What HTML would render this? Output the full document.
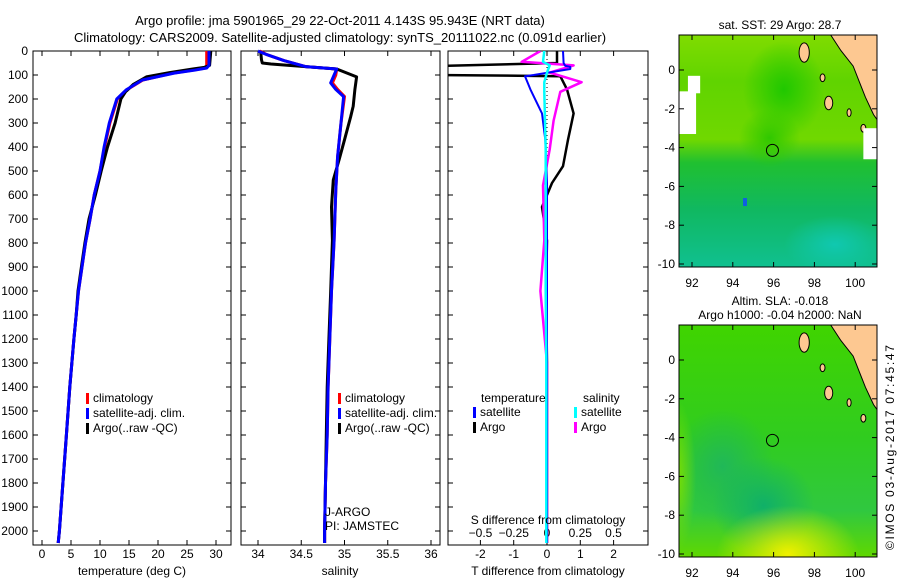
<!DOCTYPE html>
<html><head><meta charset="utf-8"><style>
body{margin:0;background:#fff}
svg{font-family:"Liberation Sans",sans-serif;font-size:12px}
</style></head><body>
<svg id="c" width="900" height="580" viewBox="0 0 900 580">
<text x="340" y="25" text-anchor="middle" font-size="13">Argo profile: jma 5901965_29 22-Oct-2011 4.143S 95.943E (NRT data)</text>
<text x="340" y="42" text-anchor="middle" font-size="13">Climatology: CARS2009. Satellite-adjusted climatology: synTS_20111022.nc (0.091d earlier)</text>
<g id="p1"></g>
<g id="p2"></g>
<g id="p3"></g>
<g id="m1"></g>
<g id="m2"></g>
<text x="894" y="550" transform="rotate(-90 894 550)" font-size="12" textLength="205" lengthAdjust="spacing">©IMOS 03-Aug-2017 07:45:47</text>
</svg>
<script>
const depthTicks=[0,100,200,300,400,500,600,700,800,900,1000,1100,1200,1300,1400,1500,1600,1700,1800,1900,2000];
const tempTicks=[0,5,10,15,20,25,30];
const salTicks=[34,34.5,35,35.5,36];
const tdTicks=[-2,-1,0,1,2];
const sdTicks=[-0.5,-0.25,0,0.25,0.5];
// temperature (deg C)
const climTD=[0,60,71,80,92,121,162,200,300,400,500,600,700,800,900,1000,1100,1200,1400,1600,1800,2000,2050];
const climT=[28.4,28.4,28.2,26,22.6,17.4,14.6,13,11.7,10.8,10,9,8.3,7.5,6.9,6.3,5.9,5.5,4.8,4.2,3.6,3.0,2.8];
const satT=[28.8,28.8,28.4,26.3,22.8,17.3,14.5,12.9,11.6,10.7,10,9,8.3,7.5,6.9,6.3,5.9,5.5,4.8,4.2,3.6,3.0,2.8];
const argoTD=[0,60,68,75,90,108,140,170,200,300,400,500,600,700,800,900,1000,1100,1200,1400,1600,1800,2000,2050];
const argoT=[29.1,28.9,28,26,22,18,15.7,14.4,13.6,12.6,11.3,10.2,9.2,8.1,7.4,6.8,6.2,5.9,5.5,4.8,4.2,3.6,3.0,2.8];
// salinity
const climSD=[0,15,40,65,75,100,133,160,190,300,440,580,790,1000,1200,1400,1600,1800,2000,2050];
const climS=[34.02,34.1,34.3,34.55,34.91,34.9,34.86,34.92,35.0,34.96,34.92,34.9,34.88,34.85,34.83,34.81,34.8,34.78,34.77,34.77];
const satS=[34.0,34.1,34.3,34.55,34.91,34.88,34.84,34.9,34.99,34.96,34.92,34.9,34.88,34.85,34.83,34.81,34.8,34.78,34.77,34.77];
const argoSD=[0,37,50,54,75,108,160,230,275,370,450,537,650,790,1000,1200,1400,1600,1800,2000,2050];
const argoS=[34.03,34.04,34.05,34.15,34.91,35.14,35.12,35.1,35.07,35.0,34.94,34.87,34.85,34.86,34.84,34.82,34.8,34.79,34.78,34.77,34.77];
// differences
const dTD=[0,50,62,66,75,100,105,160,260,370,480,550,650,790,1000,1300,1600,2000,2050];
const dTargo=[0.3,0.3,-3.2,-3.2,-3.2,-3.2,0.4,0.6,0.8,0.63,0.48,0.15,-0.15,0,-0.03,0,0,0,0];
const dTsat=[0.48,0.5,0.55,0.7,0.7,-0.4,-0.66,-0.5,-0.15,-0.05,-0.02,0,0,0,0,0,0,0,0];
const dSD=[0,45,60,90,130,170,290,410,560,790,1000,1300,1600,2000,2050];
const dSargo=[-0.05,-0.19,0.2,0.02,0.26,0.1,0.05,0.02,-0.03,-0.02,-0.05,0,0,0,0];
const dSsat=[-0.02,-0.03,0.02,0.0,-0.02,-0.02,-0.015,-0.01,-0.01,-0.01,-0.01,-0.005,-0.005,-0.005,-0.005];

const NS="http://www.w3.org/2000/svg";
function mk(p,t,a,txt){const e=document.createElementNS(NS,t);for(const k in a)e.setAttribute(k,a[k]);if(txt!==undefined)e.textContent=txt;p.appendChild(e);return e;}
const yD=d=>51+d*0.24;
const TOP=51,BOT=545;
function frame(g,x0,x1){const r=mk(g,'rect',{x:x0,y:TOP,width:x1-x0,height:BOT-TOP,fill:'none',stroke:'#000'});

}
function line(g,xs,ds,xf,col,w,name){const pts=xs.map((v,i)=>xf(v).toFixed(1)+','+yD(ds[i]).toFixed(1)).join(' ');
const l=mk(g,'polyline',{points:pts,fill:'none',stroke:col,'stroke-width':w,'stroke-linejoin':'round'});

}
function depthAxis(g,x0,x1,labels){depthTicks.forEach(d=>{const y=yD(d);
mk(g,'line',{x1:x0,x2:x0+5,y1:y,y2:y,stroke:'#000'});mk(g,'line',{x1:x1-5,x2:x1,y1:y,y2:y,stroke:'#000'});
if(labels){const t=mk(g,'text',{x:28,y:y+4,'text-anchor':'end'},String(d));

}});}
function xAxis(g,ticks,xf,y,lab){ticks.forEach(v=>{const x=xf(v);mk(g,'line',{x1:x,x2:x,y1:BOT-5,y2:BOT,stroke:'#000'});mk(g,'line',{x1:x,x2:x,y1:TOP,y2:TOP+5,stroke:'#000'});
if(lab){const t=mk(g,'text',{x:x,y:y,'text-anchor':'middle'},String(v));

}});}
function legend(g,x,y,items){items.forEach((it,i)=>{mk(g,'rect',{x:x,y:y+i*15-9,width:3,height:11,fill:it[0]});
const t=mk(g,'text',{x:x+7,y:y+i*15},it[1]);

});}

// Panel 1
const p1=document.getElementById('p1');const xT=v=>42+v*5.8;
frame(p1,33,231);depthAxis(p1,33,231,true);xAxis(p1,tempTicks,xT,558,true);
line(p1,climT,climTD,xT,'#f00',3,'climatology-temp-line');
line(p1,argoT,argoTD,xT,'#000',3,'argo-temp-line');
line(p1,satT,climTD,xT,'#00f',3,'satellite-temp-line');
legend(p1,86,402,[['#f00','climatology'],['#00f','satellite-adj. clim.'],['#000','Argo(..raw -QC)']]);
mk(p1,'text',{x:132,y:575,'text-anchor':'middle'},'temperature (deg C)');
// Panel 2
const p2=document.getElementById('p2');const xS=v=>258+(v-34)*86.5;
frame(p2,241,440);depthAxis(p2,241,440,false);xAxis(p2,salTicks,xS,558,true);
line(p2,climS,climSD,xS,'#f00',3,'climatology-salinity-line');
line(p2,argoS,argoSD,xS,'#000',3,'argo-salinity-line');
line(p2,satS,climSD,xS,'#00f',3,'satellite-salinity-line');
legend(p2,338,402,[['#f00','climatology'],['#00f','satellite-adj. clim.'],['#000','Argo(..raw -QC)']]);
mk(p2,'text',{x:325,y:516},'J-ARGO');mk(p2,'text',{x:325,y:530},'PI: JAMSTEC');
mk(p2,'text',{x:340,y:575,'text-anchor':'middle'},'salinity');
// Panel 3
const p3=document.getElementById('p3');const xTD=v=>547+v*33.3;const xSD=v=>547+v*133;
const cp=mk(p3,'clipPath',{id:'cl3'});mk(cp,'rect',{x:448,y:TOP,width:200,height:BOT-TOP});
frame(p3,448,648);depthAxis(p3,448,648,false);xAxis(p3,tdTicks,xTD,558,true);
sdTicks.forEach(v=>{const t=mk(p3,'text',{x:xSD(v),y:537,'text-anchor':'middle'},String(v).replace('-','−'));

});
mk(p3,'line',{x1:547,x2:547,y1:TOP,y2:BOT,stroke:'#000','stroke-dasharray':'1,3'});
const gl=mk(p3,'g',{'clip-path':'url(#cl3)'});
line(gl,dTargo,dTD,xTD,'#000',2.5,'argo-temp-diff-line');
line(gl,dSargo,dSD,xSD,'#f0f',2.5,'argo-sal-diff-line');
line(gl,dTsat,dTD,xTD,'#00f',2,'sat-temp-diff-line');
line(gl,dSsat,dSD,xSD,'#0ff',2.5,'sat-sal-diff-line');
mk(p3,'text',{x:481,y:402},'temperature');mk(p3,'text',{x:583,y:402},'salinity');
legend(p3,473,416,[['#00f','satellite'],['#000','Argo']]);
legend(p3,574,416,[['#0ff','satellite'],['#f0f','Argo']]);
mk(p3,'text',{x:548,y:524,'text-anchor':'middle'},'S difference from climatology');
mk(p3,'text',{x:548,y:575,'text-anchor':'middle'},'T difference from climatology');

// Maps
const lonTicks=[92,94,96,98,100];const latTicks=[0,-2,-4,-6,-8,-10];
const mX=lon=>692+(lon-92)*20.4;
const land=[[98.8,1.9],[99.3,1.0],[99.9,0.2],[100.2,-0.6],[100.5,-1.4],[100.9,-2.3],[101.1,-2.6],[101.1,1.9]];
function map(id,y0,lat0y,title,grad,blobs){const g=document.getElementById(id);const mY=lat=>lat0y-lat*19.4;
const gid='gr'+id;const lg=mk(g,'linearGradient',{id:gid,x1:0,y1:0,x2:0,y2:1});
grad.forEach(s=>mk(lg,'stop',{offset:s[0],'stop-color':s[1]}));
const cid='cm'+id;const c=mk(g,'clipPath',{id:cid});mk(c,'rect',{x:679,y:y0,width:198,height:232});
const inner=mk(g,'g',{'clip-path':'url(#'+cid+')'});
const bg=mk(inner,'rect',{x:679,y:y0,width:198,height:232,fill:'url(#'+gid+')'});


blobs.forEach((b,i)=>{const rg=mk(g,'radialGradient',{id:id+'b'+i});mk(rg,'stop',{offset:0,'stop-color':b[4],'stop-opacity':1});mk(rg,'stop',{offset:1,'stop-color':b[4],'stop-opacity':0});
mk(inner,'ellipse',{cx:mX(b[0]),cy:mY(b[1]),rx:b[2]*20.4,ry:b[3]*19.4,fill:'url(#'+id+'b'+i+')'});});
const ld=mk(inner,'polygon',{points:land.map(p=>mX(p[0])+','+Math.max(y0,mY(p[1]))).join(' '),fill:'#fdc891',stroke:'#000'});


[[97.5,0.9,0.25,0.5],[98.7,-1.7,0.2,0.35],[98.4,-0.4,0.12,0.2],[99.7,-2.2,0.1,0.2],[100.4,-3.0,0.12,0.2]].forEach(e=>mk(inner,'ellipse',{cx:mX(e[0]),cy:mY(e[1]),rx:e[2]*20.4,ry:e[3]*19.4,fill:'#fdc891',stroke:'#000'}));
const ac=mk(g,'circle',{cx:mX(95.943),cy:mY(-4.143),r:6,fill:'none',stroke:'#000'});


mk(g,'rect',{x:679,y:y0,width:198,height:232,fill:'none',stroke:'#000'});
lonTicks.forEach(l=>{mk(g,'line',{x1:mX(l),x2:mX(l),y1:y0+232,y2:y0+227,stroke:'#000'});mk(g,'line',{x1:mX(l),x2:mX(l),y1:y0,y2:y0+5,stroke:'#000'});
mk(g,'text',{x:mX(l),y:y0+252,'text-anchor':'middle'},String(l));});
latTicks.forEach(l=>{mk(g,'line',{x1:679,x2:684,y1:mY(l),y2:mY(l),stroke:'#000'});mk(g,'line',{x1:872,x2:877,y1:mY(l),y2:mY(l),stroke:'#000'});
mk(g,'text',{x:675,y:mY(l)+4,'text-anchor':'end'},String(l));});
title.forEach((t,i)=>mk(g,'text',{x:780,y:y0-(title.length-1-i)*14-6,'text-anchor':'middle'},t));
return {g:inner,mY};}
const M1=map('m1',35,70,['sat. SST: 29 Argo: 28.7'],[[0,'#80dc00'],[0.2,'#60d400'],[0.45,'#70d800'],[0.55,'#20c030'],[0.75,'#10b860'],[1,'#10c090']],
 [[96.5,-1,2,2.5,'#20c800'],[95.8,-3.5,1.5,1.5,'#30c800'],[99,-9,2.5,1.5,'#10c8b0']]);
// white data gaps in SST map (lon, top lat, width deg, height deg)
[[91.8,-0.3,0.6,0.9],[91.2,-1.1,1.0,2.2],[100.4,-3.0,0.7,1.6]].forEach(r=>mk(M1.g,'rect',{x:mX(r[0]),y:M1.mY(r[1]),width:r[2]*20.4,height:r[3]*19.4,fill:'#fff'}));
mk(M1.g,'rect',{x:mX(94.5),y:M1.mY(-6.6),width:4,height:8,fill:'#1060e0'});
map('m2',325,360,['Altim. SLA: -0.018','Argo h1000: -0.04 h2000: NaN'],[[0,'#40d400'],[0.5,'#30cc20'],[0.8,'#30c840'],[1,'#60d800']],
 [[93.5,-5.5,2.5,3,'#20b858'],[95.5,-7.5,2.5,2.5,'#10b068'],[96.7,-10,3.5,2.5,'#f0f000'],[91.2,-6,1,4,'#80e000']]);
</script>
</body></html>
